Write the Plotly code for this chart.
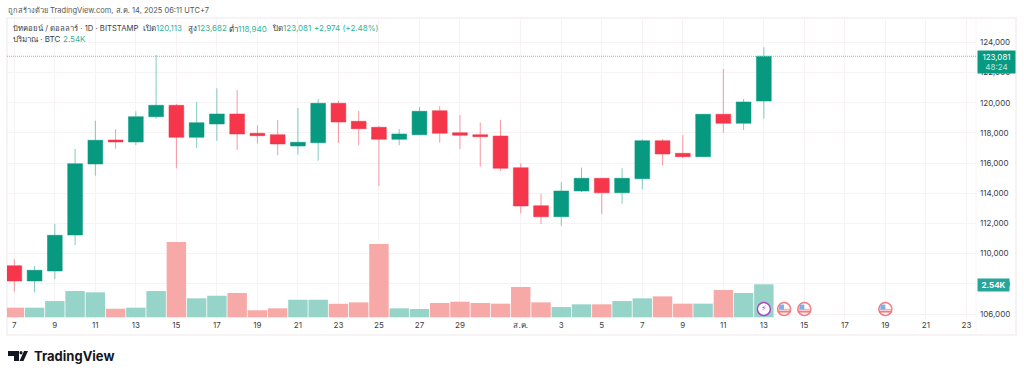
import plotly.graph_objects as go
import pandas as pd

dates = ["2025-07-%02d" % d for d in range(7, 32)] + ["2025-08-%02d" % d for d in range(1, 14)]
opens = [109202, 108188, 108850, 111236, 115942, 117532, 117400, 119076, 119832, 117711, 118592, 119255, 117976,
         117883, 117135, 117353, 119964, 118771, 118374, 117578, 117883, 119474, 118016, 117883, 117797,
         115696, 113178, 112449, 114152, 114994, 114040, 114968, 117486, 116651, 116426, 119235, 118639, 120113]
closes = [108188, 108897, 111217, 115962, 117512, 117400, 119076, 119832, 117711, 118679, 119255, 117930, 117817,
          117267, 117380, 119964, 118725, 118281, 117578, 117930, 119434, 117976, 117844, 117751, 115657,
          113158, 112449, 114152, 114994, 114040, 114994, 117486, 116604, 116426, 119235, 118639, 120050, 123081]
highs = [109630, 109180, 111970, 116940, 118810, 118260, 119430, 123165, 119920, 120050, 120960, 120850, 118500,
         118860, 119650, 120250, 120120, 119460, 118460, 118260, 119720, 119780, 119190, 118700, 118860,
         115988, 113974, 114730, 115700, 115010, 115660, 117580, 117600, 117860, 119250, 122240, 120250, 123682]
lows = [107480, 107440, 108320, 110570, 115170, 116960, 117200, 118940, 115660, 117000, 117480, 116870, 117310,
        116520, 116560, 116160, 117330, 117180, 114480, 117180, 117860, 117350, 116920, 115760, 115500,
        112675, 111965, 111850, 114090, 112630, 113310, 114265, 115860, 116320, 116400, 118020, 118195, 118940]
volumes = [0.74, 0.74, 1.25, 2.02, 1.92, 0.66, 0.74, 2.02, 5.79, 1.46, 1.66, 1.87, 0.54, 0.69, 1.35, 1.35,
           1.04, 1.15, 5.64, 0.69, 0.64, 1.10, 1.20, 1.10, 1.05, 2.33, 1.15, 0.79, 1.00, 1.00, 1.25, 1.46,
           1.61, 1.05, 1.05, 2.10, 1.87, 2.54]

tick_dates = ["2025-07-07", "2025-07-09", "2025-07-11", "2025-07-13", "2025-07-15", "2025-07-17", "2025-07-19",
              "2025-07-21", "2025-07-23", "2025-07-25", "2025-07-27", "2025-07-29", "2025-08-01", "2025-08-03",
              "2025-08-05", "2025-08-07", "2025-08-09", "2025-08-11", "2025-08-13", "2025-08-15", "2025-08-17",
              "2025-08-19", "2025-08-21", "2025-08-23"]
tick_labels = ["7", "9", "11", "13", "15", "17", "19", "21", "23", "25", "27", "29", "ส.ค.", "3", "5", "7", "9",
               "11", "13", "15", "17", "19", "21", "23"]
price_ticks = [106000, 108000, 110000, 112000, 114000, 116000, 118000, 120000, 122000, 124000]
last_close = 123081
event_dates = ["2025-08-14", "2025-08-15", "2025-08-19"]
energy_date = ["2025-08-13"]
event_level = [106330, 106330, 106330]

UP, DOWN = "#089981", "#F6364A"
VOL_UP, VOL_DOWN = "#96D3C9", "#F7A9A7"
TEXT = "#3a3d46"
FONT = "Inter, 'Noto Sans', 'DejaVu Sans', sans-serif"

L, R, T, B = 7, 976, 18, 319
def px(x): return (x - L) / (R - L)
def py(y): return 1 - (y - T) / (B - T)

fig = go.Figure()
fig.add_trace(go.Bar(x=dates, y=volumes, yaxis="y",
                     marker=dict(color=[VOL_UP if c >= o else VOL_DOWN for o, c in zip(opens, closes)], line_width=0),
                     hoverinfo="skip"))
fig.add_trace(go.Candlestick(x=dates, open=opens, high=highs, low=lows, close=closes, yaxis="y2",
                             whiskerwidth=0,
                             increasing=dict(fillcolor=UP, line=dict(color="rgba(8,153,129,0.5)", width=1)),
                             decreasing=dict(fillcolor=DOWN, line=dict(color="rgba(246,54,74,0.5)", width=1))))
# event markers
flag_left = [str(pd.Timestamp(d) - pd.Timedelta(hours=3)) for d in event_dates]
fig.add_trace(go.Scatter(x=event_dates, y=event_level, yaxis="y2", mode="markers",
                         marker=dict(size=13, color="#fff", line=dict(color="#F47C80", width=1.6)), hoverinfo="skip"))
fig.add_trace(go.Scatter(x=event_dates, y=[v - 170 for v in event_level], yaxis="y2", mode="markers",
                         marker=dict(size=9, symbol="line-ew", line=dict(color="#F47C80", width=2)), hoverinfo="skip"))
fig.add_trace(go.Scatter(x=event_dates, y=[v - 20 for v in event_level], yaxis="y2", mode="markers",
                         marker=dict(size=9, symbol="line-ew", line=dict(color="#F9A3A5", width=1)), hoverinfo="skip"))
fig.add_trace(go.Scatter(x=flag_left, y=[v + 130 for v in event_level], yaxis="y2", mode="markers",
                         marker=dict(size=5, symbol="square", color="#7FB0EE"), hoverinfo="skip"))
fig.add_trace(go.Scatter(x=energy_date, y=event_level[:1], yaxis="y2", mode="markers+text",
                         marker=dict(size=13, color="#fff", line=dict(color="#AB47BC", width=1.5)),
                         text=["⚡"], textposition="middle center",
                         textfont=dict(size=8, color="#AB47BC", family="DejaVu Sans"), hoverinfo="skip"))

shapes = [
    dict(type="rect", xref="paper", yref="paper", x0=0, x1=px(1016), y0=py(335), y1=1,
         line=dict(color="#F5EFF2", width=1.5), layer="below"),
    dict(type="line", xref="paper", yref="paper", x0=1, x1=1, y0=py(335), y1=1,
         line=dict(color="#F7F3F5", width=1), layer="below"),
    dict(type="line", xref="paper", yref="y2", x0=0, x1=1, y0=last_close, y1=last_close,
         line=dict(color="#6FCABB", width=1, dash="1px,1px")),
    # TradingView mark
    dict(type="path", xref="paper", yref="paper", line_width=0, fillcolor="#131722",
         path="M %f %f L %f %f L %f %f L %f %f L %f %f L %f %f Z" % (
             px(8), py(351), px(19), py(351), px(19), py(361), px(14), py(361), px(14), py(356), px(8), py(356))),
    dict(type="circle", xref="paper", yref="paper", line_width=0, fillcolor="#131722",
         x0=px(19.5), x1=px(22.5), y0=py(354.5), y1=py(351)),
    dict(type="path", xref="paper", yref="paper", line_width=0, fillcolor="#131722",
         path="M %f %f L %f %f L %f %f L %f %f Z" % (
             px(24), py(351), px(28), py(351), px(23.5), py(361), px(19.5), py(361))),
]

def note(x, y, text, color=TEXT, size=8, anchor="left", **kw):
    return dict(x=px(x), y=py(y), xref="paper", yref="paper", text=text, showarrow=False, xanchor=anchor,
                yanchor="middle", font=dict(family=FONT, size=size, color=color), borderpad=0, **kw)

GREEN_TXT = "#2FB39C"
annotations = [
    note(7, 10, "ถูกสร้างด้วย TradingView.com, ส.ค. 14, 2025 06:11 UTC+7", "#555", size=7.5),
    note(12, 28, "บิทคอยน์ / ดอลลาร์ · 1D · BITSTAMP", size=7.7),
    note(142, 28, "เปิด<span style='color:%s'>120,113</span>" % GREEN_TXT),
    note(187, 28, "สูง<span style='color:%s'>123,682</span>" % GREEN_TXT),
    note(228, 28, "ต่ำ<span style='color:%s'>118,940</span>" % GREEN_TXT),
    note(271, 28, "ปิด<span style='color:%s'>123,081</span>" % GREEN_TXT),
    note(313, 28, "+2,974 (+2.48%)", GREEN_TXT),
    note(12, 39, "ปริมาณ · BTC"),
    note(62, 39, "2.54K", GREEN_TXT),
    note(33, 356, "<b>TradingView</b>", "#131722", size=13),
    dict(x=px(977), y=py(61.5), xref="paper", yref="paper", showarrow=False, xanchor="left", yanchor="middle",
         text="123,081<br><span style='color:#BDE5DE'>48:24</span>", align="center", bgcolor=UP, borderpad=1,
         width=35, font=dict(family=FONT, size=8, color="#fff")),
    dict(x=px(977), y=py(284.5), xref="paper", yref="paper", showarrow=False, xanchor="left", yanchor="middle",
         text="<b>2.54K</b>", bgcolor="#26A69A", borderpad=1, width=29,
         font=dict(family=FONT, size=8, color="#fff")),
]

fig.update_layout(
    width=1024, height=376, autosize=False, margin=dict(l=L, r=1024 - R, t=T, b=376 - B),
    paper_bgcolor="#fff", plot_bgcolor="#fff", showlegend=False, bargap=0.04, boxgap=0.27, boxgroupgap=0,
    shapes=shapes, annotations=annotations,
    xaxis=dict(type="date", range=["2025-07-06 15:20", "2025-08-23 11:20"], rangeslider=dict(visible=False),
               tickmode="array", tickvals=tick_dates, ticktext=tick_labels, ticks="", showline=False,
               showgrid=True, gridcolor="#F7F3F5", gridwidth=1, zeroline=False,
               tickfont=dict(family=FONT, size=8, color=TEXT)),
    yaxis=dict(range=[-0.13, 23.02], visible=False, showgrid=False, zeroline=False),
    yaxis2=dict(overlaying="y", side="right", range=[105670, 125617], tickmode="array", tickvals=price_ticks,
                tickformat=",d", ticks="", ticklabelstandoff=3, showline=False, showgrid=True, gridcolor="#F7F3F5",
                gridwidth=1, zeroline=False, tickfont=dict(family=FONT, size=8, color=TEXT)),
)
fig.write_html("out.html", config=dict(displayModeBar=False),
               post_script="document.body.style.margin='0';document.documentElement.style.overflow='hidden';")
